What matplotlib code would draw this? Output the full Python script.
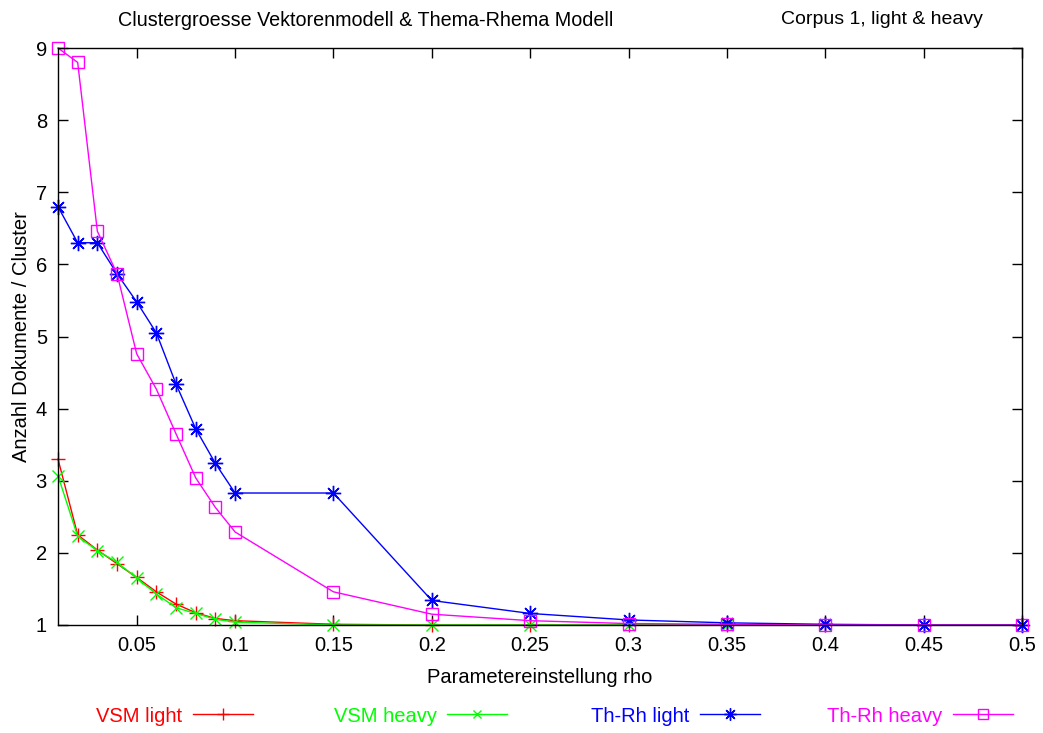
import matplotlib
matplotlib.use("Agg")
import matplotlib.pyplot as plt

plt.rcParams['font.family'] = ['Liberation Sans', 'DejaVu Sans']

rho = [0.01, 0.02, 0.03, 0.04, 0.05, 0.06, 0.07, 0.08, 0.09, 0.1,
       0.15, 0.2, 0.25, 0.3, 0.35, 0.4, 0.45, 0.5]
vsm_light = [3.30, 2.25, 2.04, 1.85, 1.66, 1.46, 1.29, 1.17, 1.09, 1.06,
             1.01, 1.00, 1.00, 1.00, 1.00, 1.00, 1.00, 1.00]
vsm_heavy = [3.07, 2.23, 2.03, 1.87, 1.65, 1.43, 1.24, 1.16, 1.08, 1.04,
             1.00, 1.00, 1.00, 1.00, 1.00, 1.00, 1.00, 1.00]
thrh_light = [6.80, 6.30, 6.30, 5.87, 5.48, 5.05, 4.34, 3.72, 3.24, 2.83,
              2.83, 1.34, 1.16, 1.07, 1.03, 1.01, 1.00, 1.00]
thrh_heavy = [9.00, 8.80, 6.46, 5.87, 4.76, 4.27, 3.65, 3.04, 2.63, 2.29,
              1.46, 1.15, 1.06, 1.02, 1.01, 1.00, 1.00, 1.00]

xticks = [0.05, 0.1, 0.15, 0.2, 0.25, 0.3, 0.35, 0.4, 0.45, 0.5]
xticklabels = ["0.05", "0.1", "0.15", "0.2", "0.25", "0.3", "0.35", "0.4", "0.45", "0.5"]
yticks = [1, 2, 3, 4, 5, 6, 7, 8, 9]

series = [
    ("VSM light", vsm_light, "#ff0000", "+", 10, None),
    ("VSM heavy", vsm_heavy, "#00ff00", "x", 8, None),
    ("Th-Rh light", thrh_light, "#0000ff", (8, 2, 0), 11, None),
    ("Th-Rh heavy", thrh_heavy, "#ff00ff", "s", 8.5, "none"),
]

FS = 14.5

fig = plt.figure(figsize=(10.43, 7.33), dpi=100)
W, H = 1043, 733
ax = fig.add_axes([58 / W, 1 - 625 / H, (1022 - 58) / W, (625 - 48) / H])

handles = []
for name, vals, col, mk, ms, mfc in series:
    kw = dict(color=col, linewidth=1.0, marker=mk, markersize=ms,
              markeredgewidth=1.0, clip_on=False)
    if mfc is not None:
        kw['markerfacecolor'] = mfc
    h, = ax.plot(rho, vals, label=name, **kw)
    handles.append(h)

ax.set_xlim(0.01, 0.5)
ax.set_ylim(1, 9)
ax.set_xticks(xticks)
ax.set_xticklabels(xticklabels)
ax.set_yticks(yticks)
ax.tick_params(direction='in', top=True, right=True, length=7, width=1,
               labelsize=FS, pad=8)
for sp in ax.spines.values():
    sp.set_linewidth(1.0)

ax.set_xlabel("Parametereinstellung rho", fontsize=FS, labelpad=9)
ax.set_ylabel("Anzahl Dokumente / Cluster", fontsize=FS, labelpad=3)

fig.text(366 / W, 1 - 20 / H, "Clustergroesse Vektorenmodell & Thema-Rhema Modell",
         ha='center', va='center', fontsize=14.2)
fig.text(882 / W, 1 - 20 / H, "Corpus 1, light & heavy",
         ha='center', va='center', fontsize=14.0)

ends = [253, 507, 760, 1013]
for h, end in zip(handles, ends):
    fig.legend([h], [h.get_label()], loc='center right',
               bbox_to_anchor=(end / W, 1 - 716 / H),
               frameon=False, markerfirst=False, handlelength=3.0,
               handletextpad=0.5, fontsize=FS, borderpad=0, borderaxespad=0,
               labelcolor='linecolor', markerscale=0.8)

fig.savefig("out.png", dpi=100)
